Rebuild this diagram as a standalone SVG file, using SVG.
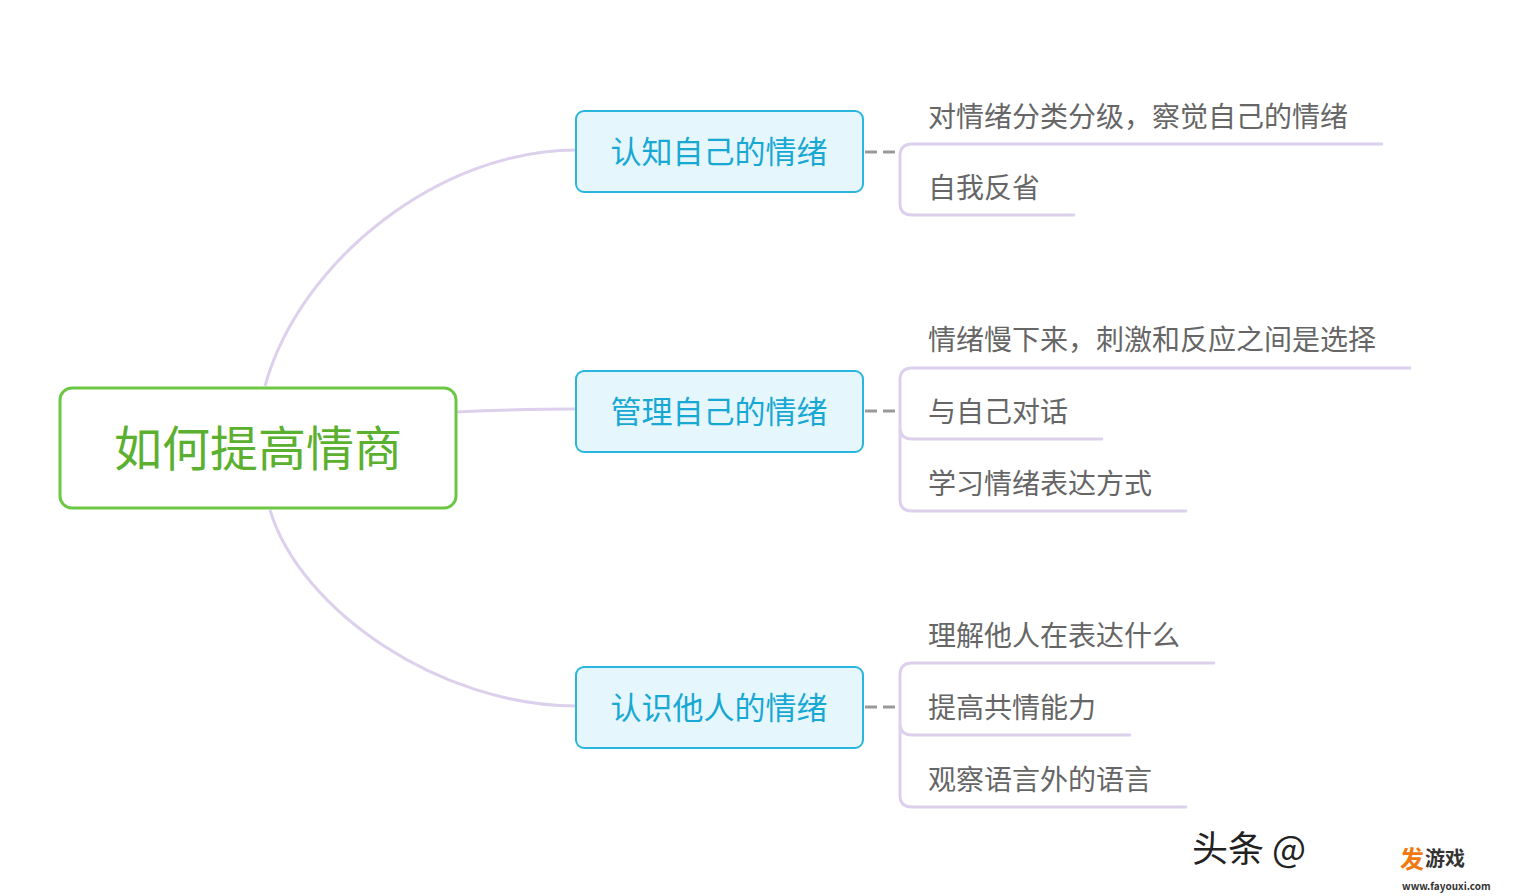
<svg xmlns="http://www.w3.org/2000/svg" width="1540" height="896" viewBox="0 0 1540 896">
<style>
.c{fill:none;stroke:#ddd0ec;stroke-width:3}
.d{fill:none;stroke:#999;stroke-width:3;stroke-dasharray:12 6}
.m rect{fill:#e5f6fc;stroke:#2ab5de;stroke-width:2}
.m text{fill:#18a8d4;font-size:31px;text-anchor:middle}
.l{fill:#666;font-size:28px}
text{font-family:"Noto Sans CJK SC","Liberation Sans",sans-serif}
</style>
<rect width="1540" height="896" fill="#fff"/>
<g id="connectors">
<path class="c" d="M265,386 C300,260 440,150 576,150"/>
<path class="c" d="M456,412 C500,410 540,409 576,409"/>
<path class="c" d="M270,510 C300,610 440,706 576,706"/>
<path class="d" d="M865,152 H898"/>
<path class="d" d="M865,411 H898"/>
<path class="d" d="M865,707 H898"/>
<path class="c" d="M1383,144 H912 Q900,144 900,156 V203 Q900,215 912,215 H1075"/>
<path class="c" d="M1411,368 H912 Q900,368 900,380 V499 Q900,511 912,511 H1187 M900,427 Q900,439 912,439 H1103"/>
<path class="c" d="M1215,663 H912 Q900,663 900,675 V795 Q900,807 912,807 H1187 M900,723 Q900,735 912,735 H1131"/>
</g>
<g id="root"><rect x="60" y="388" width="396" height="120" rx="12" fill="#fff" stroke="#6cc843" stroke-width="3"/>
<text x="258" y="466" font-size="48" fill="#5cb030" text-anchor="middle">如何提高情商</text></g>
<g id="n1" class="m"><rect x="576" y="111" width="287" height="81" rx="8"/><text x="719" y="163">认知自己的情绪</text></g>
<g id="n2" class="m"><rect x="576" y="371" width="287" height="81" rx="8"/><text x="719" y="423">管理自己的情绪</text></g>
<g id="n3" class="m"><rect x="576" y="667" width="287" height="81" rx="8"/><text x="719" y="719">认识他人的情绪</text></g>
<g id="leaves">
<text class="l" x="928" y="127">对情绪分类分级，察觉自己的情绪</text>
<text class="l" x="928" y="198">自我反省</text>
<text class="l" x="928" y="350">情绪慢下来，刺激和反应之间是选择</text>
<text class="l" x="928" y="422">与自己对话</text>
<text class="l" x="928" y="494">学习情绪表达方式</text>
<text class="l" x="928" y="646">理解他人在表达什么</text>
<text class="l" x="928" y="718">提高共情能力</text>
<text class="l" x="928" y="790">观察语言外的语言</text>
</g>
<g id="watermark">
<text x="1192" y="862" font-size="36" fill="#222">头条 @</text>
<text x="1400" y="868" font-size="24" font-weight="bold" fill="#f07a10">发</text>
<text x="1425" y="866" font-size="20" font-weight="bold" fill="#333">游戏</text>
<text x="1402" y="890" font-size="10" font-weight="bold" fill="#333">www.fayouxi.com</text>
</g>
</svg>
